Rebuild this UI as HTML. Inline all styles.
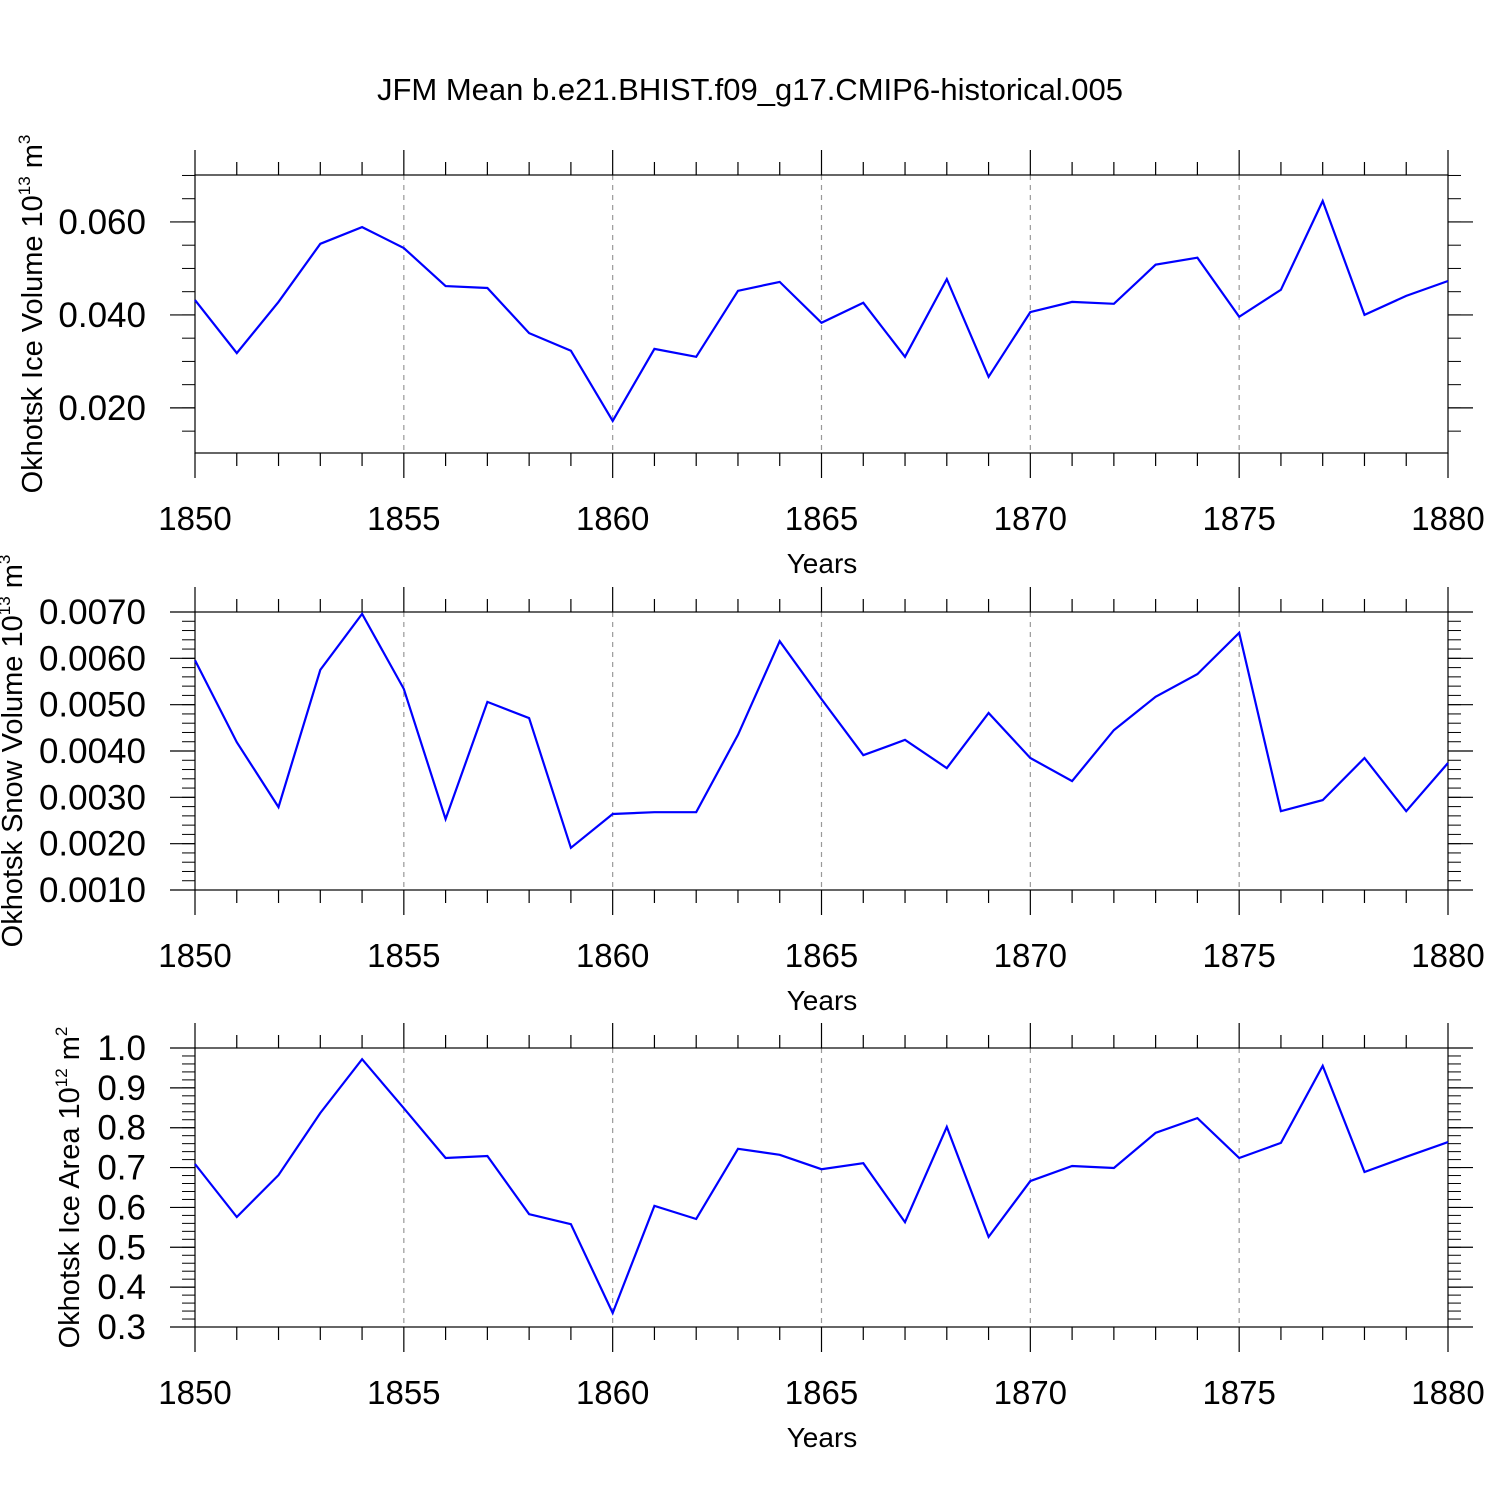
<!DOCTYPE html>
<html><head><meta charset="utf-8"><style>
html,body{margin:0;padding:0;background:#fff;}
svg{display:block;font-family:"Liberation Sans",sans-serif;}
</style></head><body>
<svg id="chart" width="1500" height="1500" viewBox="0 0 1500 1500" xmlns="http://www.w3.org/2000/svg">
<rect width="1500" height="1500" fill="#fff"/>
<text x="750" y="100" font-size="31" text-anchor="middle">JFM Mean b.e21.BHIST.f09_g17.CMIP6-historical.005</text>
</svg>
<script>
const years = [1850,1851,1852,1853,1854,1855,1856,1857,1858,1859,1860,1861,1862,1863,1864,1865,1866,1867,1868,1869,1870,1871,1872,1873,1874,1875,1876,1877,1878,1879,1880];
const iceVolume = [0.0432,0.0318,0.0428,0.0553,0.0589,0.0544,0.0462,0.0458,0.0361,0.0323,0.0172,0.0327,0.0310,0.0452,0.0471,0.0383,0.0426,0.0310,0.0477,0.0267,0.0406,0.0428,0.0424,0.0508,0.0523,0.0396,0.0454,0.0645,0.0400,0.0441,0.0473];
const snowVolume = [0.00596,0.00419,0.00279,0.00575,0.00696,0.00534,0.00253,0.00506,0.00471,0.00191,0.00264,0.00268,0.00268,0.00435,0.00637,0.00512,0.00391,0.00424,0.00363,0.00482,0.00385,0.00335,0.00445,0.00517,0.00566,0.00655,0.00270,0.00294,0.00385,0.00270,0.00374];
const iceArea = [0.709,0.576,0.681,0.837,0.972,0.849,0.724,0.729,0.583,0.558,0.335,0.604,0.571,0.747,0.732,0.696,0.711,0.563,0.802,0.526,0.666,0.704,0.699,0.787,0.824,0.724,0.762,0.955,0.689,0.727,0.764];
const xTickLabels = ["1850","1855","1860","1865","1870","1875","1880"];
const iceVolTicks = ["0.020","0.040","0.060"];
const snowTicks = ["0.0010","0.0020","0.0030","0.0040","0.0050","0.0060","0.0070"];
const areaTicks = ["0.3","0.4","0.5","0.6","0.7","0.8","0.9","1.0"];

const NS="http://www.w3.org/2000/svg";
const svg=document.getElementById('chart');
function el(t,a,p){const e=document.createElementNS(NS,t);for(const k in a)e.setAttribute(k,a[k]);(p||svg).appendChild(e);return e;}
const X0=195,X1=1448;
function xs(v){return X0+(v-1850)/30*(X1-X0);}

const panels=[
 {name:'ice-volume',top:175,bot:453,ymin:0.0103,ymax:0.0701,data:iceVolume,ticks:iceVolTicks,minor:0.005,title:'Okhotsk Ice Volume 10',sup:'13',unit:' m',usup:'3',tx:42,lfs:29},
 {name:'snow-volume',top:612,bot:890,ymin:0.001,ymax:0.007,data:snowVolume,ticks:snowTicks,minor:0.0002,title:'Okhotsk Snow Volume 10',sup:'13',unit:' m',usup:'3',tx:22,lfs:29},
 {name:'ice-area',top:1048,bot:1327,ymin:0.3,ymax:1.0,data:iceArea,ticks:areaTicks,minor:0.02,title:'Okhotsk Ice Area 10',sup:'12',unit:' m',usup:'2',tx:79,lfs:29}
];
panels.forEach(p=>{
 const g=el('g',{});
 
 
 const ys=v=>p.bot-(v-p.ymin)/(p.ymax-p.ymin)*(p.bot-p.top);
 for(let yr=1855;yr<=1875;yr+=5){
  const l=el('line',{x1:xs(yr),x2:xs(yr),y1:p.top,y2:p.bot,stroke:'#999','stroke-width':1.2,'stroke-dasharray':'5,5'},g);
  
  
 }
 for(let yr=1850;yr<=1880;yr++){
  const L=(yr%5===0)?25:13,x=xs(yr);
  el('line',{x1:x,x2:x,y1:p.top,y2:p.top-L,stroke:'#000','stroke-width':1.2},g);
  el('line',{x1:x,x2:x,y1:p.bot,y2:p.bot+L,stroke:'#000','stroke-width':1.2},g);
 }
 xTickLabels.forEach(s=>{
  const t=el('text',{x:xs(+s),y:p.bot+77,'font-size':33,'text-anchor':'middle'},g);
  
  
  t.textContent=s;
 });
 const xt=el('text',{x:822,y:p.bot+120,'font-size':28,'text-anchor':'middle'},g);
 
 
 xt.textContent='Years';
 const n=Math.round((p.ymax-p.ymin)/p.minor)+2;
 const start=Math.ceil(p.ymin/p.minor-1e-6)*p.minor;
 for(let i=0;i<n;i++){
  const v=start+i*p.minor; if(v>p.ymax+1e-9)break;
  const y=ys(v);
  el('line',{x1:X0,x2:X0-13,y1:y,y2:y,stroke:'#000','stroke-width':1},g);
  el('line',{x1:X1,x2:X1+13,y1:y,y2:y,stroke:'#000','stroke-width':1},g);
 }
 p.ticks.forEach(s=>{
  const y=ys(+s);
  el('line',{x1:X0,x2:X0-25,y1:y,y2:y,stroke:'#000','stroke-width':1.2},g);
  el('line',{x1:X1,x2:X1+25,y1:y,y2:y,stroke:'#000','stroke-width':1.2},g);
  const t=el('text',{x:146,y:y+12,'font-size':35,'text-anchor':'end'},g);
  
  
  t.textContent=s;
 });
 el('rect',{x:X0,y:p.top,width:X1-X0,height:p.bot-p.top,fill:'none',stroke:'#000','stroke-width':1.2},g);
 const pts=p.data.map((v,i)=>xs(years[i]).toFixed(1)+','+ys(v).toFixed(1)).join(' ');
 const line=el('polyline',{points:pts,fill:'none',stroke:'#0000ff','stroke-width':2.2},g);
 
 
 const cy=(p.top+p.bot)/2;
 const yt=el('text',{x:p.tx,y:cy,'font-size':p.lfs,'text-anchor':'middle',transform:`rotate(-90 ${p.tx} ${cy})`},g);
 
 
 yt.innerHTML=p.title+'<tspan dy="-12" font-size="17">'+p.sup+'</tspan><tspan dy="12">'+p.unit+'</tspan><tspan dy="-12" font-size="17">'+p.usup+'</tspan>';
});
</script>
</body></html>
